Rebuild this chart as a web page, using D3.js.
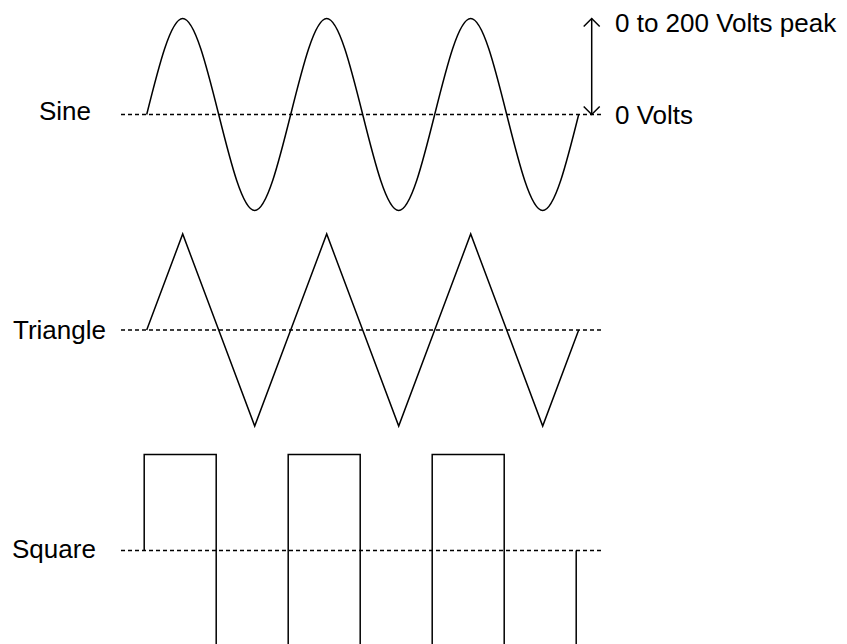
<!DOCTYPE html>
<html>
<head>
<meta charset="utf-8">
<script src="https://cdn.jsdelivr.net/npm/d3@7"></script>
<style>
  body { margin: 0; background: #fff; }
  text { font-family: "Liberation Sans", Arial, sans-serif; font-size: 26px; fill: #000; }
</style>
</head>
<body>
<div id="chart"></div>
<script>
// waveform names, drawn as the labels on the left
const waveNames = ["Sine", "Triangle", "Square"];

// quarter-cycle positions (in cycles) and voltage at each one
const quarterCycles = [0, 0.25, 0.5, 0.75, 1, 1.25, 1.5, 1.75, 2, 2.25, 2.5, 2.75, 3];
const sineVolts = [0, 200, 0, -200, 0, 200, 0, -200, 0, 200, 0, -200, 0];
const triangleVolts = [0, 200, 0, -200, 0, 200, 0, -200, 0, 200, 0, -200, 0];

// square wave switches every half cycle
const squareCycles = [0, 0, 0.5, 1, 1.5, 2, 2.5, 3];
const squareVolts = [0, 200, -200, 200, -200, 200, -200, 0];

const peakLabels = ["0 to 200 Volts peak", "0 Volts"];

const width = 847, height = 644;

const svg = d3.select("#chart")
  .append("svg")
  .attr("width", width)
  .attr("height", height);

const x = d3.scaleLinear().domain([0, 3]).range([146.7, 578.7]);

// one row per waveform: zero line position and label placement
const rows = [
  { name: waveNames[0], zero: 114.5, labelX: 39, labelY: 120, shift: 0,
    pts: quarterCycles.map((c, i) => [c, sineVolts[i]]), curve: d3.curveNatural },
  { name: waveNames[1], zero: 330, labelX: 13, labelY: 338.5, shift: 0,
    pts: quarterCycles.map((c, i) => [c, triangleVolts[i]]), curve: d3.curveLinear },
  { name: waveNames[2], zero: 550.5, labelX: 12, labelY: 558, shift: -2.5,
    pts: squareCycles.map((c, i) => [c, squareVolts[i]]), curve: d3.curveStepAfter }
];

rows.forEach(r => {
  const y = d3.scaleLinear().domain([-200, 200]).range([r.zero + 96, r.zero - 96]);

  svg.append("line")
    .attr("x1", 121).attr("x2", 602)
    .attr("y1", y(0)).attr("y2", y(0))
    .attr("stroke", "#000")
    .attr("stroke-width", 1.4)
    .attr("stroke-dasharray", "4,3");

  const line = d3.line()
    .x(d => x(d[0]) + r.shift)
    .y(d => y(d[1]))
    .curve(r.curve);

  svg.append("path")
    .attr("d", line(r.pts))
    .attr("fill", "none")
    .attr("stroke", "#000")
    .attr("stroke-width", 1.5);

  svg.append("text")
    .attr("x", r.labelX)
    .attr("y", r.labelY)
    .text(r.name);
});

// double-headed arrow showing the peak voltage
const ySine = d3.scaleLinear().domain([-200, 200]).range([rows[0].zero + 96, rows[0].zero - 96]);
const ax = 591.7;
const aTop = ySine(200), aBot = ySine(0);

svg.append("line")
  .attr("x1", ax).attr("x2", ax)
  .attr("y1", aTop).attr("y2", aBot)
  .attr("stroke", "#000").attr("stroke-width", 1.5);

svg.append("path")
  .attr("d", `M${ax - 8},${aTop + 8}L${ax},${aTop}L${ax + 8},${aTop + 8}`)
  .attr("fill", "none").attr("stroke", "#000").attr("stroke-width", 1.5);

svg.append("path")
  .attr("d", `M${ax - 8},${aBot - 8}L${ax},${aBot}L${ax + 8},${aBot - 8}`)
  .attr("fill", "none").attr("stroke", "#000").attr("stroke-width", 1.5);

svg.append("text").attr("x", 615).attr("y", 32).text(peakLabels[0]);
svg.append("text").attr("x", 615).attr("y", 123.5).text(peakLabels[1]);
</script>
</body>
</html>
